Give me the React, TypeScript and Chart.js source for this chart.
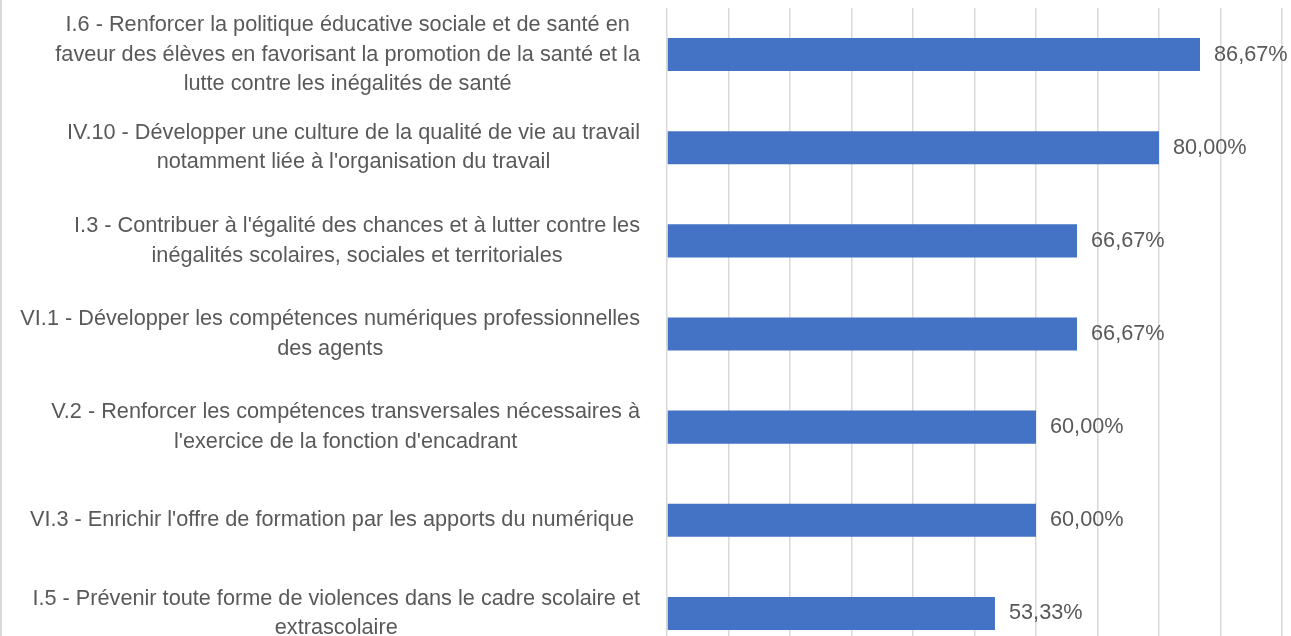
import React, { useEffect, useRef } from "react";
import { Chart, registerables } from "chart.js";

Chart.register(...registerables);

const categories: string[][] = [
  [
    "I.6 - Renforcer la politique éducative sociale et de santé en",
    "faveur des élèves en favorisant la promotion de la santé et la",
    "lutte contre les inégalités de santé",
  ],
  [
    "IV.10 - Développer une culture de la qualité de vie au travail",
    "notamment liée à l'organisation du travail",
  ],
  [
    "I.3 - Contribuer à l'égalité des chances et à lutter contre les",
    "inégalités scolaires, sociales et territoriales",
  ],
  [
    "VI.1 - Développer les compétences numériques professionnelles",
    "des agents",
  ],
  [
    "V.2 - Renforcer les compétences transversales nécessaires à",
    "l'exercice de la fonction d'encadrant",
  ],
  ["VI.3 - Enrichir l'offre de formation par les apports du numérique "],
  [
    "I.5 - Prévenir toute forme de violences dans le cadre scolaire et",
    "extrascolaire",
  ],
];

const values: number[] = [86.67, 80.0, 66.67, 66.67, 60.0, 60.0, 53.33];

const axisMin = 0;
const axisMax = 100;
const axisStep = 10;

const TEXT_COLOR = "#595959";
const FONT_FAMILY = '"Liberation Sans Narrow", "Liberation Sans", sans-serif';
const REF_LINE = "VI.1 - Développer les compétences numériques professionnelles";
const REF_WIDTH = 621;

function fmt(v: number): string {
  return v.toFixed(2).replace(".", ",") + "%";
}

export default function App() {
  const canvasRef = useRef<HTMLCanvasElement | null>(null);

  useEffect(() => {
    const canvas = canvasRef.current;
    if (!canvas) return;

    let fontSize = 20;
    {
      const c = canvas.getContext("2d")!;
      c.font = `20px ${FONT_FAMILY}`;
      const w = c.measureText(REF_LINE).width;
      fontSize = Math.round((20 * REF_WIDTH) / w * 10) / 10;
    }
    const font = `${fontSize}px ${FONT_FAMILY}`;

    const labelsPlugin = {
      id: "customLabels",
      beforeDraw(chart: any) {
        const ctx = chart.ctx;
        ctx.save();
        ctx.fillStyle = "#d9d9d9";
        ctx.fillRect(0, 0, 2, chart.height);
        ctx.restore();
      },
      afterDraw(chart: any) {
        const ctx = chart.ctx;
        const yScale = chart.scales.y;
        const labels = chart.data.labels as string[][];
        ctx.save();
        ctx.font = font;
        ctx.fillStyle = TEXT_COLOR;
        ctx.textAlign = "center";
        ctx.textBaseline = "middle";
        const right = 640;
        const lh = 29.5;
        labels.forEach((lines, i) => {
          const yc = yScale.getPixelForValue(i);
          const bw = Math.max(...lines.map((l) => ctx.measureText(l).width));
          const cx = right - bw / 2;
          lines.forEach((l, j) => {
            ctx.fillText(l, cx, yc + (j - (lines.length - 1) / 2) * lh);
          });
        });
        const meta = chart.getDatasetMeta(0);
        ctx.textAlign = "left";
        meta.data.forEach((el: any, i: number) => {
          const v = chart.data.datasets[0].data[i] as number;
          ctx.fillText(fmt(v), el.x + 14, el.y);
        });
        ctx.restore();
      },
    };

    const chart = new Chart(canvas, {
      type: "bar",
      data: {
        labels: categories as any,
        datasets: [
          {
            data: values,
            backgroundColor: "#4472C4",
            borderWidth: 0,
            categoryPercentage: 1,
            barPercentage: 0.355,
          },
        ],
      },
      options: {
        indexAxis: "y",
        responsive: false,
        animation: false,
        layout: { padding: { left: 667, right: 9, top: 8, bottom: 20 } },
        plugins: {
          legend: { display: false },
          tooltip: { enabled: false },
          title: { display: false },
        },
        scales: {
          x: {
            min: axisMin,
            max: axisMax,
            ticks: { display: false, stepSize: axisStep },
            grid: { color: "#d9d9d9", lineWidth: 1.5, drawTicks: false },
            border: { display: false },
          },
          y: {
            display: false,
          },
        },
      },
      plugins: [labelsPlugin],
    });

    return () => chart.destroy();
  }, []);

  return (
    <div
      style={{
        position: "absolute",
        left: 0,
        top: 0,
        width: 1291,
        height: 636,
        overflow: "hidden",
        background: "#fff",
      }}
    >
      <canvas ref={canvasRef} width={1291} height={680} style={{ display: "block" }} />
    </div>
  );
}
